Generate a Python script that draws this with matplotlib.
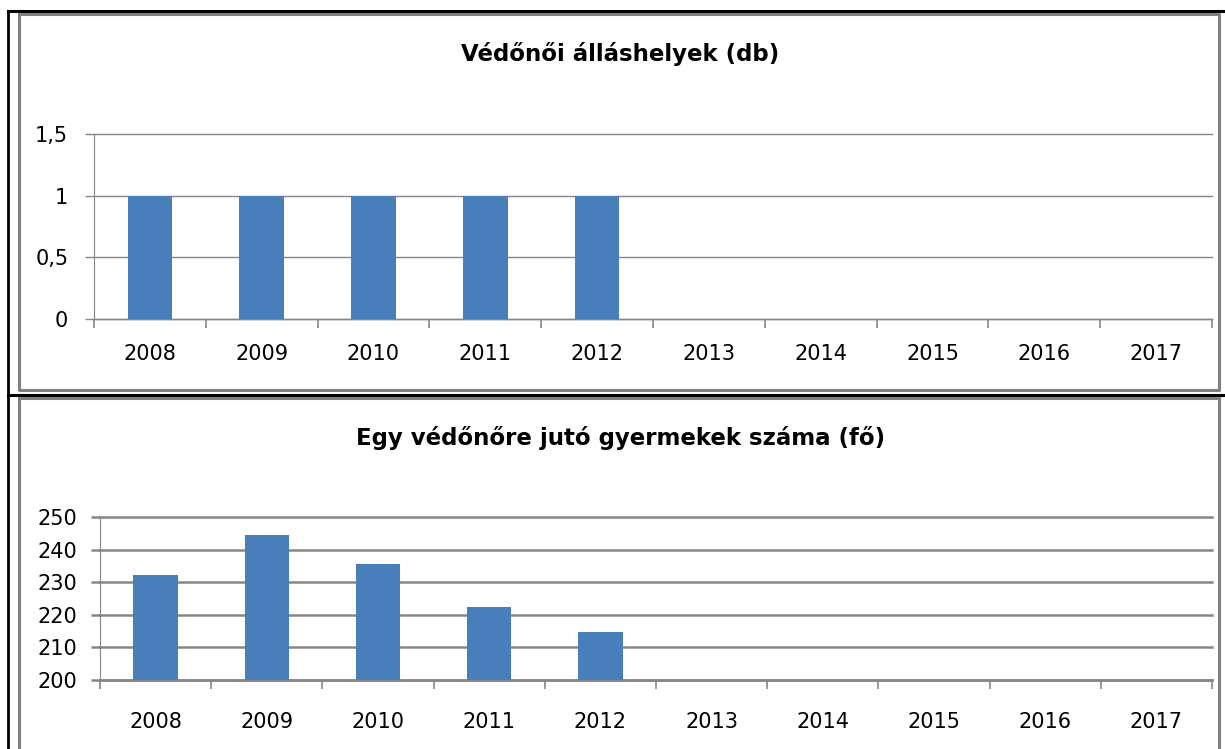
import matplotlib
matplotlib.use("Agg")
import matplotlib.pyplot as plt
from matplotlib.lines import Line2D
import numpy as np

# adatok
years = ["2008", "2009", "2010", "2011", "2012", "2013", "2014", "2015", "2016", "2017"]
allashelyek = [1, 1, 1, 1, 1, 0, 0, 0, 0, 0]
gyermekek = [232.3, 244.6, 235.7, 222.5, 214.8, 0, 0, 0, 0, 0]

title_top = "Védőnői álláshelyek (db)"
title_bottom = "Egy védőnőre jutó gyermekek száma (fő)"

BAR = "#4a7ebb"
GRID = "#868686"
W, H = 1225, 749

plt.rcParams["font.family"] = ["DejaVu Sans"]

fig = plt.figure(figsize=(W / 100, H / 100), dpi=100)


def px_axes(left, top, right, bottom):
    return fig.add_axes([left / W, 1 - bottom / H, (right - left) / W, (bottom - top) / H])


def draw_panel(ax, values, ylim, yticks, ylabels, grid_lw, xpad, ypad):
    x = np.arange(len(years))
    vals = [v if v > ylim[0] else np.nan for v in values]
    ax.bar(x, np.array(vals) - ylim[0], bottom=ylim[0], width=0.4, color=BAR, zorder=3)
    ax.set_xlim(-0.5, len(years) - 0.5)
    ax.set_ylim(*ylim)
    ax.set_yticks(yticks)
    ax.set_yticklabels(ylabels, fontsize=15)
    for t in yticks:
        ax.axhline(t, color=GRID, lw=grid_lw, zorder=1, clip_on=False)
    ax.set_xticks(np.arange(len(years) + 1) - 0.5)
    ax.set_xticklabels([])
    ax.set_xticks(x, minor=True)
    ax.set_xticklabels(years, minor=True, fontsize=15)
    ax.tick_params(axis="x", which="major", length=6.5, color=GRID, width=1.2)
    ax.tick_params(axis="x", which="minor", length=0, pad=xpad)
    ax.tick_params(axis="y", length=6.5, color=GRID, width=grid_lw, pad=ypad)
    for s in ["top", "right"]:
        ax.spines[s].set_visible(False)
    ax.spines["left"].set_color(GRID)
    ax.spines["bottom"].set_color(GRID)
    ax.spines["bottom"].set_linewidth(grid_lw)


ax1 = px_axes(94, 134, 1212, 319)
draw_panel(ax1, allashelyek, (0, 1.5), [0, 0.5, 1, 1.5], ["0", "0,5", "1", "1,5"], 1.0, 18, 12)
ax2 = px_axes(100, 517, 1212, 680)
draw_panel(ax2, gyermekek, (200, 250), [200, 210, 220, 230, 240, 250],
           ["200", "210", "220", "230", "240", "250"], 1.8, 23, 10)

fig.text(620 / W, 1 - 54 / H, title_top, ha="center", va="center", fontsize=16.5, fontweight="bold")
fig.text(621 / W, 1 - 438 / H, title_bottom, ha="center", va="center", fontsize=16.5, fontweight="bold")


def fline(xs, ys, color, lw):
    fig.add_artist(Line2D([x / W for x in xs], [1 - y / H for y in ys], color=color, lw=lw,
                          transform=fig.transFigure))


# keretek
fline([8, 8], [11, 749], "black", 2)
fline([8, 1225], [11, 11], "black", 2.2)
fline([8, 1225], [395, 395], "black", 2.2)
fline([19, 19, 1219, 1219, 19], [14, 390, 390, 14, 14], "#808080", 2.2)
fline([19, 19], [398, 749], "#808080", 2.2)
fline([1219, 1219], [398, 749], "#808080", 2.2)
fline([19, 1219], [398, 398], "#808080", 2.2)

fig.savefig("out.png", dpi=100)
